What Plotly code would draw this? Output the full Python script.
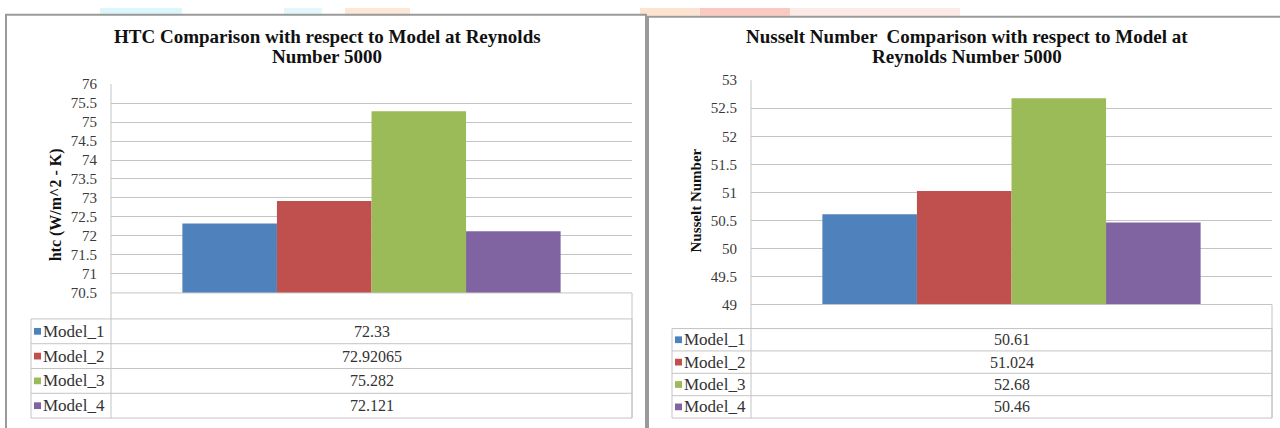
import plotly.graph_objects as go

# ---- data ----
models = ["Model_1", "Model_2", "Model_3", "Model_4"]
colors = ["#4f81bd", "#c0504d", "#9bbb59", "#8064a2"]
htc_values = [72.33, 72.92065, 75.282, 72.121]
nusselt_values = [50.61, 51.024, 52.68, 50.46]
htc_ticks = [70.5, 71, 71.5, 72, 72.5, 73, 73.5, 74, 74.5, 75, 75.5, 76]
nusselt_ticks = [49, 49.5, 50, 50.5, 51, 51.5, 52, 52.5, 53]

W, H = 1280, 428
FONT = "Liberation Serif"
LINE = "#c4c4c4"
BORDER = "#9a9a9a"


def X(px):
    return px / W


def Y(py):
    return 1 - py / H


# panel layout (pixel geometry)
panels = [
    dict(box=(6, 7, 646), plot=(111, 632, 79, 296), table=(31, 323, 426),
         yrange=(70.5, 76), ticks=htc_ticks, values=htc_values,
         title=["HTC Comparison with respect to Model at Reynolds", "Number 5000"],
         title_x=327, ytitle="htc (W/m^2 - K)", ytitle_x=56, ytitle_y=205, ytitle_size=16,
         xa="x", ya="y"),
    dict(box=(648, 9, 1290), plot=(751, 1272, 75, 308), table=(672, 333, 426),
         yrange=(49, 53), ticks=nusselt_ticks, values=nusselt_values,
         title=["Nusselt Number  Comparison with respect to Model at", "Reynolds Number 5000"],
         title_x=967, ytitle="Nusselt Number", ytitle_x=696, ytitle_y=200, ytitle_size=15,
         xa="x2", ya="y2"),
]

fig = go.Figure()
shapes = []
annotations = []

# faint page strip along the top edge
strip = [(100, 182, "#dcf6fa"), (284, 322, "#e3f8fb"), (345, 410, "#fde8d8"),
         (640, 700, "#fde3d0"), (700, 790, "#f9c9c2"), (790, 960, "#fde9e6")]
for x0, x1, c in strip:
    shapes.append(dict(type="rect", xref="paper", yref="paper", x0=X(x0), x1=X(x1),
                       y0=Y(8), y1=Y(0), fillcolor=c, line=dict(width=0), layer="below"))

for i, p in enumerate(panels):
    bx0, by0, bx1 = p["box"]
    px0, px1, py0, py1 = p["plot"]
    tx0, ttop, tbot = p["table"]
    suffix = "" if i == 0 else "2"

    for m, v, c in zip(models, p["values"], colors):
        fig.add_trace(go.Bar(x=["Re 5000"], y=[v], name=m, marker=dict(color=c, line=dict(width=0)),
                             xaxis=p["xa"], yaxis=p["ya"], showlegend=False))

    fig.update_layout(**{
        "xaxis" + suffix: dict(domain=[X(px0), X(px1)], range=[-0.5, 0.5], showticklabels=False,
                               showgrid=False, zeroline=False, showline=False,
                               anchor="y" + suffix),
        "yaxis" + suffix: dict(domain=[Y(py1), Y(py0)], range=list(p["yrange"]),
                               tickvals=p["ticks"], showgrid=True, gridcolor=LINE, gridwidth=1,
                               zeroline=False, showline=False, ticks="",
                               ticklabelstandoff=13,
                               tickfont=dict(family=FONT, size=15, color="#3a3a3a"),
                               anchor="x" + suffix),
    })

    # panel frame
    shapes.append(dict(type="rect", xref="paper", yref="paper", x0=X(bx0), x1=X(bx1),
                       y0=Y(H + 20), y1=Y(by0), line=dict(color=BORDER, width=2)))

    # axis line / legend column divider
    shapes.append(dict(type="line", xref="paper", yref="paper", x0=X(px0), x1=X(px0),
                       y0=Y(tbot), y1=Y(py0), line=dict(color=LINE, width=1)))
    # baseline of bars and header row of the data table
    shapes.append(dict(type="line", xref="paper", yref="paper", x0=X(px0), x1=X(px1),
                       y0=Y(py1), y1=Y(py1), line=dict(color=LINE, width=1)))
    shapes.append(dict(type="line", xref="paper", yref="paper", x0=X(px1), x1=X(px1),
                       y0=Y(tbot), y1=Y(py1), line=dict(color=LINE, width=1)))
    # table frame
    shapes.append(dict(type="rect", xref="paper", yref="paper", x0=X(tx0), x1=X(px1),
                       y0=Y(tbot), y1=Y(ttop), line=dict(color=LINE, width=1)))
    rh = (tbot - ttop) / len(models)
    for r in range(1, len(models)):
        yy = ttop + r * rh
        shapes.append(dict(type="line", xref="paper", yref="paper", x0=X(tx0), x1=X(px1),
                           y0=Y(yy), y1=Y(yy), line=dict(color=LINE, width=1)))

    for r, (m, v, c) in enumerate(zip(models, p["values"], colors)):
        cy = ttop + (r + 0.5) * rh
        shapes.append(dict(type="rect", xref="paper", yref="paper",
                           x0=X(tx0 + 3), x1=X(tx0 + 10), y0=Y(cy + 3.5), y1=Y(cy - 3.5),
                           fillcolor=c, line=dict(width=0)))
        annotations.append(dict(xref="paper", yref="paper", x=X(tx0 + 10), y=Y(cy),
                                text=m, showarrow=False, xanchor="left", yanchor="middle",
                                font=dict(family=FONT, size=17, color="#333333")))
        annotations.append(dict(xref="paper", yref="paper", x=X((px0 + px1) / 2), y=Y(cy),
                                text=str(v), showarrow=False, xanchor="center", yanchor="middle",
                                font=dict(family=FONT, size=16, color="#333333")))

    # chart title, two lines
    for k, line_text in enumerate(p["title"]):
        annotations.append(dict(xref="paper", yref="paper", x=X(p["title_x"]), y=Y(30 + 20.5 * k),
                                text="<b>" + line_text + "</b>", showarrow=False,
                                xanchor="center", yanchor="middle",
                                font=dict(family=FONT, size=19, color="#111111")))
    # value axis title
    annotations.append(dict(xref="paper", yref="paper", x=X(p["ytitle_x"]), y=Y(p["ytitle_y"]),
                            text="<b>" + p["ytitle"] + "</b>", showarrow=False, textangle=-90,
                            xanchor="center", yanchor="middle",
                            font=dict(family=FONT, size=p["ytitle_size"], color="#111111")))

fig.update_layout(
    width=W, height=H,
    margin=dict(l=0, r=0, t=0, b=0),
    paper_bgcolor="white", plot_bgcolor="rgba(0,0,0,0)",
    barmode="group", bargap=0.274, bargroupgap=0,
    shapes=shapes, annotations=annotations,
)

fig.write_html("out.html")
